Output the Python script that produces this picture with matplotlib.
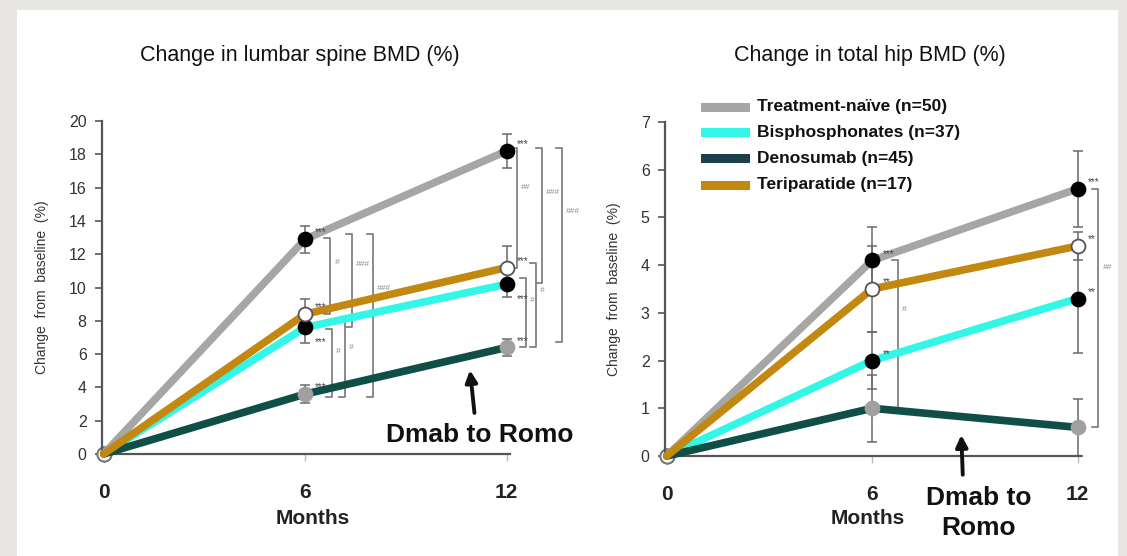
import matplotlib
matplotlib.use("Agg")
import matplotlib.pyplot as plt
from matplotlib.patches import Rectangle
from matplotlib.lines import Line2D

plt.rcParams["font.family"] = ["Liberation Sans", "DejaVu Sans"]

# data
months = [0, 6, 12]
groups = ["Treatment-naïve (n=50)", "Bisphosphonates (n=37)",
          "Denosumab (n=45)", "Teriparatide (n=17)"]

spine_naive = [0, 12.9, 18.2]
spine_bis = [0, 7.6, 10.2]
spine_dmab = [0, 3.6, 6.4]
spine_teri = [0, 8.4, 11.2]
spine_err_naive = [0, 0.8, 1.0]
spine_err_bis = [0, 0.95, 0.8]
spine_err_dmab = [0, 0.55, 0.5]
spine_err_teri = [0, 0.9, 1.3]
spine_stars = ["***", "***", "***", "***"]

hip_naive = [0, 4.1, 5.6]
hip_bis = [0, 2.0, 3.3]
hip_dmab = [0, 1.0, 0.6]
hip_teri = [0, 3.5, 4.4]
hip_err_naive = [0, 0.7, 0.8]
hip_err_bis = [0, 0.6, 1.15]
hip_err_dmab = [0, 0.7, 0.6]
hip_err_teri = [0, 0.9, 0.3]
hip_stars = ["***", "**", "", "**"]

# significance brackets: (top, bottom, label)
spine_brackets = [(13.0, 8.4, "#"), (13.2, 7.6, "###"), (13.2, 3.4, "###"),
                  (7.5, 3.4, "#"), (7.9, 3.4, "#"),
                  (18.4, 11.2, "##"), (18.4, 10.3, "###"), (18.4, 6.7, "###"),
                  (10.6, 6.4, "#"), (11.5, 6.4, "#")]
spine_bracket_x = [6.75, 7.40, 8.02, 6.80, 7.19, 12.31, 13.05, 13.64, 12.57, 12.87]
hip_brackets = [(4.1, 1.0, "#"), (5.6, 0.6, "##")]
hip_bracket_x = [6.76, 12.61]

colors = ["#a6a6a6", "#33f7e6", "#0f4f47", "#c2880f"]
legend_colors = ["#a6a6a6", "#33f7e6", "#1d3f4b", "#c2880f"]
face = ["black", "black", "#a0a0a0", "white"]
edge = ["black", "black", "#a0a0a0", "#555555"]

W, H = 1127, 556
fig = plt.figure(figsize=(W / 100, H / 100), dpi=100)
fig.patch.set_facecolor("#e9e7e4")
fig.add_artist(Rectangle((17 / W, 0), (1118 - 17) / W, 1 - 10 / H,
                         transform=fig.transFigure, facecolor="white",
                         edgecolor="none", zorder=0))


def fx(px):
    return px / W


def fy(py):
    return 1 - py / H


def panel(ax, series, errs, stars, brackets, bx, ymax, ytick_step):
    for i in range(4):
        ax.errorbar(months[1:], series[i][1:], yerr=errs[i][1:], fmt="none",
                    ecolor="#6a6a6a", elinewidth=1.1, capsize=3.5, capthick=1.1,
                    zorder=2, clip_on=False)
    for i in range(4):
        ax.plot(months, series[i], color=colors[i], lw=5.5, zorder=3,
                solid_capstyle="round", clip_on=False)
    for i in range(4):
        ax.plot(months[1:], series[i][1:], ls="none", marker="o", ms=10,
                mfc=face[i], mec=edge[i], mew=1.3, zorder=4, clip_on=False)
        ax.plot(months[:1], series[i][:1], ls="none", marker="o", ms=10,
                mfc="white", mec="#777777", mew=1.3, zorder=2, clip_on=False)
        if stars[i]:
            for m, v in zip(months[1:], series[i][1:]):
                dy = -0.045 * ymax if (i == 1 and ymax > 10) else 0.02 * ymax
                ax.text(m + 0.3, v + dy, stars[i], fontsize=7, color="#444444",
                        ha="left", va="center", zorder=5)
    for (top, bot, lab), x in zip(brackets, bx):
        ax.plot([x - 0.18, x, x, x - 0.18], [top, top, bot, bot],
                color="#777777", lw=1.2, clip_on=False, zorder=2)
        ax.text(x + 0.12, top - (top - bot) * 0.33, lab, fontsize=6,
                color="#888888", style="italic", ha="left", va="center")
    ax.set_xlim(-0.05, 12.1)
    ax.set_ylim(0, ymax)
    ax.set_yticks(range(0, ymax + 1, ytick_step))
    ax.set_xticks(months)
    ax.set_xticklabels([str(m) for m in months], fontsize=15, fontweight="bold",
                       color="#222222")
    ax.tick_params(axis="y", labelsize=11.5, colors="#555555", labelcolor="#333333",
                   length=5, width=1.2, pad=6)
    ax.tick_params(axis="x", length=5, width=1.0, colors="#bbbbbb",
                   labelcolor="#222222", pad=16)
    for s in ["top", "right"]:
        ax.spines[s].set_visible(False)
    for s in ["left", "bottom"]:
        ax.spines[s].set_color("#555555")
        ax.spines[s].set_linewidth(1.6)
    ax.set_ylabel("Change  from  baseline  (%)", fontsize=10, color="#333333",
                  labelpad=14)


ax1 = fig.add_axes([fx(102), fy(454), fx(510) - fx(102), fy(121) - fy(454)])
panel(ax1, [spine_naive, spine_bis, spine_dmab, spine_teri],
      [spine_err_naive, spine_err_bis, spine_err_dmab, spine_err_teri],
      spine_stars, spine_brackets, spine_bracket_x, 20, 2)

ax2 = fig.add_axes([fx(665), fy(456), fx(1081) - fx(665), fy(122) - fy(456)])
panel(ax2, [hip_naive, hip_bis, hip_dmab, hip_teri],
      [hip_err_naive, hip_err_bis, hip_err_dmab, hip_err_teri],
      hip_stars, hip_brackets, hip_bracket_x, 7, 1)

fig.text(fx(300), fy(56), "Change in lumbar spine BMD (%)", fontsize=15.5,
         ha="center", va="center", color="#111111")
fig.text(fx(870), fy(56), "Change in total hip BMD (%)", fontsize=15.5,
         ha="center", va="center", color="#111111")
fig.text(fx(313), fy(518), "Months", fontsize=15, fontweight="bold",
         ha="center", va="center", color="#222222")
fig.text(fx(868), fy(519), "Months", fontsize=15, fontweight="bold",
         ha="center", va="center", color="#222222")

# annotations
ax1.annotate("", xy=(10.9, 5.2), xytext=(11.05, 2.3),
             arrowprops=dict(arrowstyle="-|>,head_width=0.35,head_length=0.7",
                             color="#111111", lw=2.8))
ax1.text(11.2, 1.15, "Dmab to Romo", fontsize=19, fontweight="bold",
         ha="center", va="center", color="#111111")
ax2.annotate("", xy=(8.6, 0.5), xytext=(8.65, -0.45),
             arrowprops=dict(arrowstyle="-|>,head_width=0.35,head_length=0.7",
                             color="#111111", lw=2.8),
             annotation_clip=False)
ax2.text(9.1, -1.2, "Dmab to\nRomo", fontsize=19, fontweight="bold",
         ha="center", va="center", color="#111111", linespacing=1.3)

# legend
for i, name in enumerate(groups):
    yy = [107, 132, 158, 185][i]
    fig.add_artist(Line2D([fx(705), fx(745)], [fy(yy), fy(yy)],
                          color=legend_colors[i], lw=6.5,
                          transform=fig.transFigure))
    fig.text(fx(757), fy(yy), name, fontsize=12.5, fontweight="bold",
             ha="left", va="center", color="#111111")

fig.savefig("out.png", dpi=100, facecolor=fig.get_facecolor())
